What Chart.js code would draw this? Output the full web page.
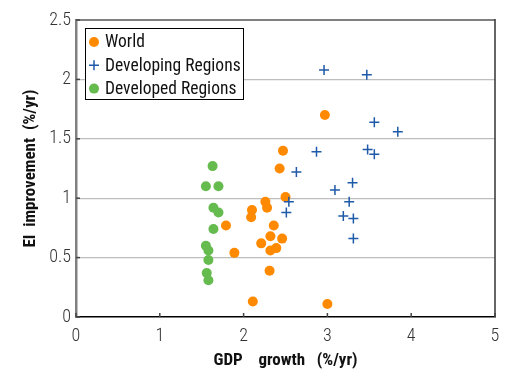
<!DOCTYPE html>
<html>
<head>
<meta charset="utf-8">
<script src="https://cdn.jsdelivr.net/npm/chart.js@4/dist/chart.umd.min.js"></script>
<style>
html,body{margin:0;padding:0;background:#fff;}
#wrap{width:526px;height:389px;position:relative;}
</style>
</head>
<body>
<div id="wrap"><canvas id="c" width="526" height="389"></canvas></div>
<script>
// ---- data ----
const seriesNames = ["World", "Developing Regions", "Developed Regions"];
const worldX = [2.47, 2.43, 2.50, 2.26, 2.28, 2.10, 2.09, 2.36, 1.79, 2.32, 2.46, 2.21, 2.39, 2.32, 1.89, 2.31, 2.11, 2.97, 3.00];
const worldY = [1.40, 1.25, 1.01, 0.97, 0.92, 0.90, 0.84, 0.77, 0.77, 0.68, 0.66, 0.62, 0.58, 0.56, 0.54, 0.39, 0.13, 1.70, 0.11];
const developingX = [2.96, 3.47, 3.56, 3.84, 2.87, 3.48, 3.56, 2.63, 3.30, 3.09, 2.54, 3.26, 2.51, 3.19, 3.31, 3.31];
const developingY = [2.08, 2.04, 1.64, 1.56, 1.39, 1.41, 1.37, 1.22, 1.13, 1.07, 0.97, 0.97, 0.88, 0.85, 0.83, 0.66];
const developedX = [1.63, 1.55, 1.70, 1.64, 1.70, 1.64, 1.55, 1.58, 1.58, 1.56, 1.58];
const developedY = [1.27, 1.10, 1.10, 0.92, 0.88, 0.74, 0.60, 0.56, 0.48, 0.37, 0.31];
const xTicks = [0, 1, 2, 3, 4, 5];
const yTicks = [0, 0.5, 1, 1.5, 2, 2.5];
const xTitle = "GDP    growth   (%/yr)";
const yTitle = "EI  improvement  (%/yr)";

const pts = (xs, ys) => xs.map((x, i) => ({x: x, y: ys[i]}));

const FAM = "Roboto, 'Liberation Sans', sans-serif";

const ORANGE = '#FF8A00', BLUE = '#1F5AA8', GREEN = '#66BB4F';

const framePlugin = {
  id: 'frame',
  afterDatasetsDraw(chart) {
    const {ctx, chartArea: a, scales} = chart;
    ctx.save();
    // top border
    ctx.strokeStyle = '#808080';
    ctx.lineWidth = 2;
    ctx.beginPath(); ctx.moveTo(a.left, a.top); ctx.lineTo(a.right, a.top); ctx.stroke();
    // right border
    ctx.strokeStyle = '#333';
    ctx.lineWidth = 1.5;
    ctx.beginPath(); ctx.moveTo(a.right, a.top - 1); ctx.lineTo(a.right, a.bottom); ctx.stroke();
    // inward ticks
    ctx.strokeStyle = '#444';
    ctx.lineWidth = 1.5;
    scales.y.ticks.forEach(t => {
      const py = scales.y.getPixelForValue(t.value);
      ctx.beginPath(); ctx.moveTo(a.left, py); ctx.lineTo(a.left + 4, py); ctx.stroke();
    });
    scales.x.ticks.forEach(t => {
      const px = scales.x.getPixelForValue(t.value);
      ctx.beginPath(); ctx.moveTo(px, a.bottom); ctx.lineTo(px, a.bottom - 4); ctx.stroke();
    });
    // legend box
    const lx = a.left + 9, ly = a.top + 8, lw = 158, lh = 71;
    ctx.fillStyle = '#fff';
    ctx.fillRect(lx, ly, lw, lh);
    ctx.strokeStyle = '#000';
    ctx.lineWidth = 1;
    ctx.strokeRect(lx + 0.5, ly + 0.5, lw, lh);
    const sets = chart.data.datasets;
    ctx.font = "condensed 17.5px " + FAM;
    ctx.textBaseline = 'middle';
    ctx.textAlign = 'left';
    sets.forEach((ds, i) => {
      const cy = ly + 14 + i * 23.3;
      const cx = lx + 9;
      ctx.save();
      ctx.fillStyle = ds.backgroundColor;
      ctx.strokeStyle = ds.borderColor;
      ctx.lineWidth = ds.pointBorderWidth;
      ctx.beginPath();
      if (ds.pointStyle === 'cross') {
        ctx.moveTo(cx - 5, cy); ctx.lineTo(cx + 5, cy);
        ctx.moveTo(cx, cy - 5); ctx.lineTo(cx, cy + 5);
        ctx.stroke();
      } else {
        ctx.arc(cx, cy, 5, 0, Math.PI * 2);
        ctx.fill();
      }
      ctx.restore();
      ctx.fillStyle = '#111';
      ctx.fillText(ds.label, lx + 20, cy + 1);
    });
    ctx.restore();
  }
};

new Chart(document.getElementById('c'), {
  type: 'scatter',
  data: {
    datasets: [
      {label: seriesNames[0], data: pts(worldX, worldY), pointStyle: 'circle', pointRadius: 5,
       backgroundColor: ORANGE, borderColor: ORANGE, pointBorderWidth: 0, order: 3},
      {label: seriesNames[1], data: pts(developingX, developingY), pointStyle: 'cross', pointRadius: 5,
       backgroundColor: BLUE, borderColor: BLUE, pointBorderWidth: 1.5, order: 1},
      {label: seriesNames[2], data: pts(developedX, developedY), pointStyle: 'circle', pointRadius: 5,
       backgroundColor: GREEN, borderColor: GREEN, pointBorderWidth: 0, order: 2}
    ]
  },
  options: {
    responsive: false,
    animation: false,
    devicePixelRatio: 1,
    layout: {padding: {top: 20, right: 31, left: 0, bottom: 0}},
    plugins: {legend: {display: false}, tooltip: {enabled: false}},
    scales: {
      x: {
        type: 'linear', min: 0, max: 5,
        afterBuildTicks: s => { s.ticks = xTicks.map(v => ({value: v})); },
        afterFit: s => { s.height = 72; },
        grid: {display: false, drawTicks: false},
        border: {display: true, color: '#000', width: 1.5},
        ticks: {padding: 9, color: '#333', font: {family: FAM, size: 18, weight: '300 condensed'}, maxRotation: 0,
                callback: v => String(v)},
        title: {display: true, text: xTitle, color: '#111', font: {family: FAM, size: 17, weight: 'bold condensed'}, padding: {top: 0, bottom: 18}}
      },
      y: {
        type: 'linear', min: 0, max: 2.5,
        afterBuildTicks: s => { s.ticks = yTicks.map(v => ({value: v})); },
        afterFit: s => { s.width = 76; },
        grid: {
          drawTicks: false,
          color: ctx => (ctx.tick && (ctx.tick.value === 0 || ctx.tick.value === 2.5)) ? 'rgba(0,0,0,0)' : '#BDBDBD',
          lineWidth: 1.2
        },
        border: {display: true, color: '#808080', width: 2.5},
        ticks: {padding: 5, color: '#333', font: {family: FAM, size: 18, weight: '300 condensed'},
                callback: v => String(v)},
        title: {display: true, text: yTitle, color: '#111', font: {family: FAM, size: 17, weight: 'bold condensed'}, padding: {top: 21, bottom: 0}}
      }
    }
  },
  plugins: [framePlugin]
});
</script>
</body>
</html>
